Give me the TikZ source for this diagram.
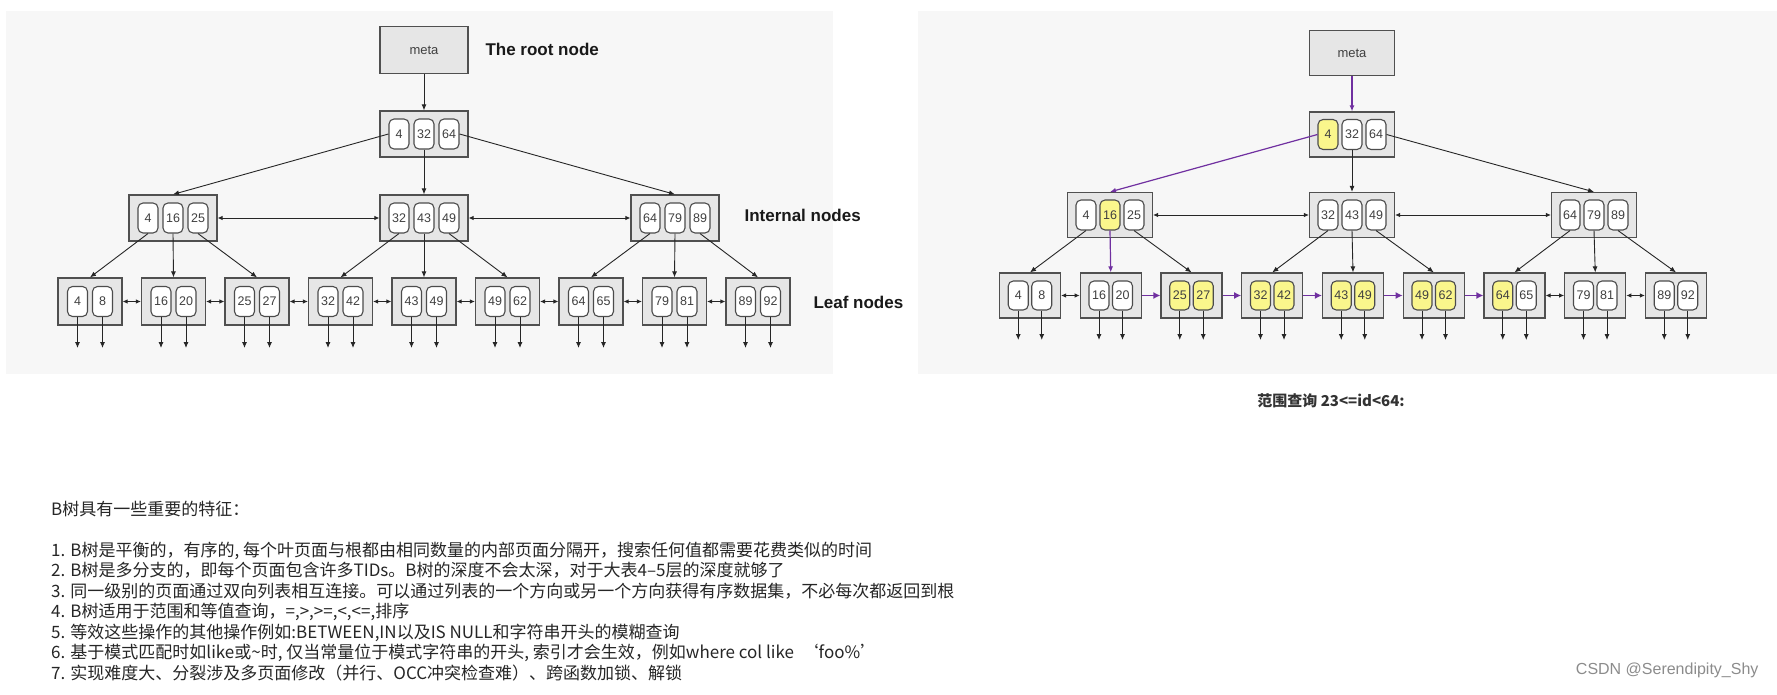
\documentclass[tikz,border=0pt]{standalone}
\usepackage{fontspec}
\setmainfont{Liberation Sans}
\newfontfamily\cjk{Noto Sans CJK SC}
\usetikzlibrary{arrows.meta,positioning}

\definecolor{panelgray}{RGB}{247,247,247}
\definecolor{pagegray}{RGB}{230,230,230}
\definecolor{framegray}{RGB}{80,80,80}
\definecolor{keyyellow}{RGB}{250,246,140}
\definecolor{scanpurple}{RGB}{112,48,160}

\begin{document}
\begin{tikzpicture}[x=1pt,y=-1pt,
  pagebox/.style={draw=framegray,fill=pagegray,line width=1.2pt,minimum width=88pt,minimum height=46pt,inner sep=0pt},
  leafbox/.style={pagebox,minimum width=64pt,minimum height=47pt},
  keybox/.style={draw=black!70,fill=white,rounded corners=5pt,line width=1.1pt,minimum width=20pt,minimum height=30pt,inner sep=0pt,text=black!75,font=\fontsize{12.5}{12.5}\selectfont},
  metabox/.style={pagebox,text=black!75,font=\fontsize{13}{13}\selectfont},
  down/.style={-{Latex[length=6pt,width=5pt]},line width=0.9pt,black!85},
  qdown/.style={down,scanpurple,line width=1.2pt},
  twoway/.style={{Latex[length=5pt,width=4.5pt]}-{Latex[length=5pt,width=4.5pt]},line width=0.9pt,black!85},
  scanlink/.style={-{Latex[length=7pt,width=7pt]},line width=1.5pt,scanpurple},
  tag/.style={anchor=west,font=\fontsize{17}{17}\selectfont\bfseries,text=black!90},
  note/.style={anchor=base west,inner sep=0pt,text=black!85,font=\cjk\fontsize{17}{17}\selectfont}]

\useasboundingbox (0,0) rectangle (1777,695);
\fill[white] (0,0) rectangle (1777,695);
\fill[panelgray] (6,11) rectangle (833,374);
\fill[panelgray] (918,11) rectangle (1777,374);

% the B-tree
\node[metabox,minimum height=47pt] (meta) at (424,50) {meta};
\node[pagebox] (root) at (424,134) {};
\node[keybox] (r1) at (399,134) {4};
\node[keybox] (r2) at (424,134) {32};
\node[keybox] (r3) at (449,134) {64};
\foreach \x/\a/\b/\c [count=\i] in {173/4/16/25,424/32/43/49,675/64/79/89}{
  \node[pagebox] (i\i) at (\x,218) {};
  \node[keybox] (ia\i) at (\x-25,218) {\a};
  \node[keybox] (ib\i) at (\x,218) {\b};
  \node[keybox] (ic\i) at (\x+25,218) {\c};
}
\foreach \x/\a/\b [count=\i] in {90/4/8,173.5/16/20,257/25/27,340.5/32/42,424/43/49,507.5/49/62,591/64/65,674.5/79/81,758/89/92}{
  \node[leafbox] (l\i) at (\x,301.5) {};
  \node[keybox] (la\i) at (\x-12.5,301.5) {\a};
  \node[keybox] (lb\i) at (\x+12.5,301.5) {\b};
  \coordinate (ea\i) at (\x-12.5,348);
  \coordinate (eb\i) at (\x+12.5,348);
  \draw[down] (la\i.south) -- (ea\i);
  \draw[down] (lb\i.south) -- (eb\i);
}
\draw[down] (meta) -- (root);
\draw[down] (r1.west) -- (i1.north);
\draw[down] (r2.south) -- (i2.north);
\draw[down] (r3.east) -- (i3.north);
\draw[down] (ia1.south) -- (l1.north);
\draw[down] (ib1.south) -- (l2.north);
\draw[down] (ic1.south) -- (l3.north);
\draw[down] (ia2.south) -- (l4.north);
\draw[down] (ib2.south) -- (l5.north);
\draw[down] (ic2.south) -- (l6.north);
\draw[down] (ia3.south) -- (l7.north);
\draw[down] (ib3.south) -- (l8.north);
\draw[down] (ic3.south) -- (l9.north);
\draw[twoway] (i1.east) -- (i2.west);
\draw[twoway] (i2.east) -- (i3.west);
\foreach \i in {1,...,8}{
  \pgfmathtruncatemacro\j{\i+1}
  \draw[twoway] (l\i.east) -- (l\j.west);
}
\node[tag] (roottag) at (482,49) {The root node};
\node[tag] (innertag) at (741,215) {Internal nodes};
\node[tag] (leaftag) at (810,302) {Leaf nodes};

% range scan 23<=id<64
\node[metabox,minimum width=85pt,minimum height=45pt] (qmeta) at (1352,53) {meta};
\node[pagebox,minimum width=85pt,minimum height=45pt] (qroot) at (1352,134.5) {};
\node[keybox,fill=keyyellow] (qr1) at (1328,134.5) {4};
\node[keybox] (qr2) at (1352,134.5) {32};
\node[keybox] (qr3) at (1376,134.5) {64};
\foreach \x/\a/\fa/\b/\fb/\c [count=\i] in {1110/4/white/16/keyyellow/25,1352/32/white/43/white/49,1594/64/white/79/white/89}{
  \node[pagebox,minimum width=85pt,minimum height=45pt] (qi\i) at (\x,215) {};
  \node[keybox,fill=\fa] (qia\i) at (\x-24,215) {\a};
  \node[keybox,fill=\fb] (qib\i) at (\x,215) {\b};
  \node[keybox] (qic\i) at (\x+24,215) {\c};
}
\foreach \x/\a/\fa/\b/\fb [count=\i] in {1030/4/white/8/white,1110.75/16/white/20/white,1191.5/25/keyyellow/27/keyyellow,1272.25/32/keyyellow/42/keyyellow,1353/43/keyyellow/49/keyyellow,1433.75/49/keyyellow/62/keyyellow,1514.5/64/keyyellow/65/white,1595.25/79/white/81/white,1676/89/white/92/white}{
  \node[leafbox,minimum width=61pt,minimum height=45pt] (ql\i) at (\x,295.5) {};
  \node[keybox,minimum height=29pt,fill=\fa] (qla\i) at (\x-11.75,295.5) {\a};
  \node[keybox,minimum height=29pt,fill=\fb] (qlb\i) at (\x+11.75,295.5) {\b};
  \coordinate (qea\i) at (\x-11.75,340);
  \coordinate (qeb\i) at (\x+11.75,340);
  \draw[down] (qla\i.south) -- (qea\i);
  \draw[down] (qlb\i.south) -- (qeb\i);
}
\draw[qdown] (qmeta) -- (qroot);
\draw[qdown] (qr1.west) -- (qi1.north);
\draw[down] (qr2.south) -- (qi2.north);
\draw[down] (qr3.east) -- (qi3.north);
\draw[down] (qia1.south) -- (ql1.north);
\draw[qdown] (qib1.south) -- (ql2.north);
\draw[down] (qic1.south) -- (ql3.north);
\draw[down] (qia2.south) -- (ql4.north);
\draw[down] (qib2.south) -- (ql5.north);
\draw[down] (qic2.south) -- (ql6.north);
\draw[down] (qia3.south) -- (ql7.north);
\draw[down] (qib3.south) -- (ql8.north);
\draw[down] (qic3.south) -- (ql9.north);
\draw[twoway] (qi1.east) -- (qi2.west);
\draw[twoway] (qi2.east) -- (qi3.west);
\draw[twoway] (ql1.east) -- (ql2.west);
\foreach \i in {2,...,6}{
  \pgfmathtruncatemacro\j{\i+1}
  \draw[scanlink] (ql\i.east) -- (ql\j.west);
}
\draw[twoway] (ql7.east) -- (ql8.west);
\draw[twoway] (ql8.east) -- (ql9.west);
\node[font=\cjk\bfseries\fontsize{15}{15}\selectfont,text=black!80] (caption) at (1331,401) {范围查询 23<=id<64:};

% notes
\node[note] (n0) at (51,515) {B树具有一些重要的特征：};
\node[note] (n1) at (51,556) {1. B树是平衡的，有序的, 每个叶页面与根都由相同数量的内部页面分隔开，搜索任何值都需要花费类似的时间};
\node[note] (n2) at (51,576.5) {2. B树是多分支的，即每个页面包含许多TIDs。B树的深度不会太深，对于大表4–5层的深度就够了};
\node[note] (n3) at (51,597) {3. 同一级别的页面通过双向列表相互连接。可以通过列表的一个方向或另一个方向获得有序数据集，不必每次都返回到根};
\node[note] (n4) at (51,617.5) {4. B树适用于范围和等值查询，=,>,>=,<,<=,排序};
\node[note] (n5) at (51,638) {5. 等效这些操作的其他操作例如:BETWEEN,IN以及IS NULL和字符串开头的模糊查询};
\node[note] (n6) at (51,658.5) {6. 基于模式匹配时如like或\textasciitilde 时, 仅当常量位于模式字符串的开头, 索引才会生效，例如where col like \ ‘foo\%’};
\node[note] (n7) at (51,679) {7. 实现难度大、分裂涉及多页面修改（并行、OCC冲突检查难）、跨函数加锁、解锁};
\node[anchor=east,text=black!45,font=\fontsize{16}{16}\selectfont] (mark) at (1762,670) {CSDN @Serendipity\_Shy};
\end{tikzpicture}
\end{document}
